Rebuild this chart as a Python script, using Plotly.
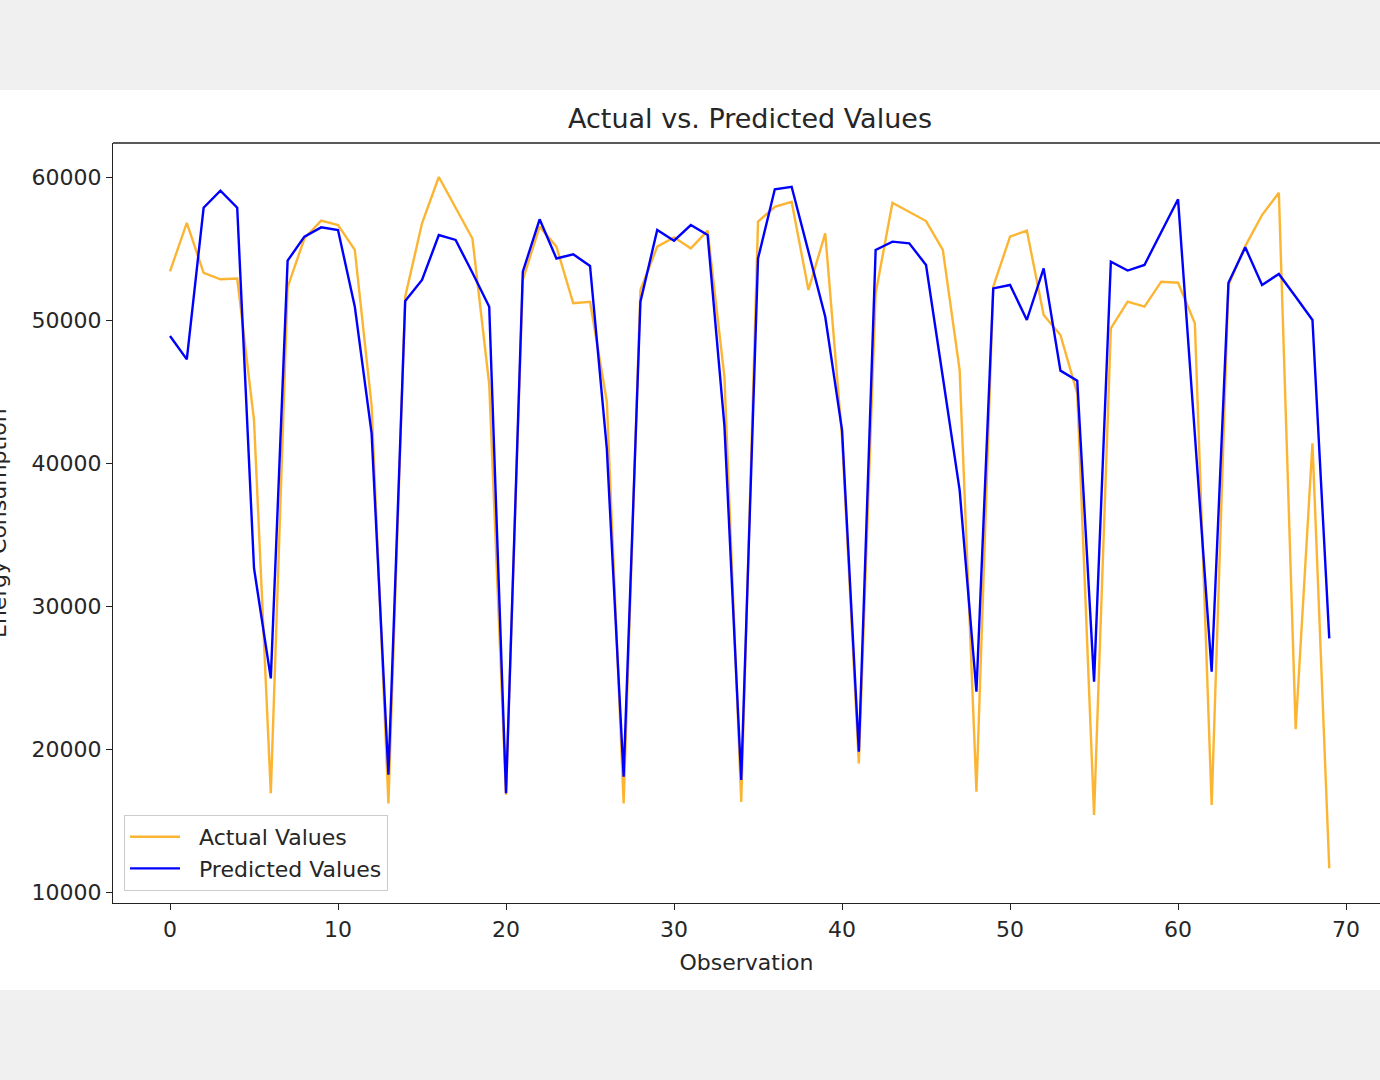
import plotly.graph_objects as go

observations = list(range(70))
actual_values = [53400, 56800, 53300, 52850, 52900, 43000, 16900, 52300, 55700, 56950,
                 56640, 54900, 44000, 16200, 51630, 56760, 60000, 57900, 55700, 45500,
                 16800, 52800, 56530, 55130, 51170, 51280, 44300, 16200, 52100, 55130,
                 55780, 55010, 56250, 46000, 16300, 56880, 57920, 58270, 52100, 56060,
                 41800, 18990, 51860, 58200, 57570, 56920, 54900, 46500, 17020, 52330,
                 55830, 56250, 50350, 48950, 44870, 15380, 49420, 51280, 50930, 52680,
                 52610, 49770, 16080, 52450, 55170, 57340, 58900, 21380, 41380, 11660]
predicted_values = [48880, 47250, 57850, 59040, 57850, 32640, 24940, 54150, 55830, 56480,
                    56290, 50930, 42070, 18200, 51330, 52800, 55940, 55600, 53300, 50930,
                    16900, 53380, 57040, 54300, 54600, 53780, 41000, 18060, 51280, 56300,
                    55550, 56640, 55940, 42600, 17830, 54300, 59140, 59320, 54780, 50230,
                    42300, 19810, 54900, 55480, 55360, 53850, 46000, 38100, 24010, 52210,
                    52450, 50000, 53610, 46460, 45760, 24710, 54080, 53460, 53850, 56180,
                    58440, 42000, 25410, 52610, 55080, 52450, 53220, 51630, 50000, 27740]
x_ticks = [0, 10, 20, 30, 40, 50, 60, 70]
y_ticks = [10000, 20000, 30000, 40000, 50000, 60000]

FONT = "DejaVu Sans"
W, H = 1380, 1080
L, T, B = 113, 143, 177
plot_w = W - L
plot_h = H - T - B
PAD = "\u00a0\u00a0"

fig = go.Figure()
fig.add_trace(go.Scatter(x=observations, y=actual_values, mode="lines",
                         name=PAD + "Actual Values",
                         line=dict(color="rgba(250,162,0,0.8)", width=2.4)))
fig.add_trace(go.Scatter(x=observations, y=predicted_values, mode="lines",
                         name=PAD + "Predicted Values",
                         line=dict(color="#0000FF", width=2.4)))

# white figure region on gray page
fig.add_shape(type="rect", xref="paper", yref="paper",
              x0=-L / plot_w, x1=1.0,
              y0=(-(990 - (H - B))) / plot_h, y1=((H - B) - 90) / plot_h,
              fillcolor="white", line=dict(width=0), layer="below")
# top spine
fig.add_shape(type="line", xref="paper", yref="paper", x0=0, x1=1, y0=1, y1=1,
              line=dict(color="#222222", width=1.3))

fig.add_annotation(text="Energy Consumption", xref="paper", yref="paper",
                   x=(-2 - L) / plot_w, y=0.5, xanchor="center", yanchor="middle",
                   textangle=-90, showarrow=False,
                   font=dict(family=FONT, size=22, color="#262626"))

fig.update_layout(
    width=W, height=H,
    margin=dict(l=L, r=0, t=T, b=B),
    paper_bgcolor="#f0f0f0",
    plot_bgcolor="white",
    font=dict(family=FONT, size=22, color="#262626"),
    title=dict(text="Actual vs. Predicted Values", x=750 / W, xanchor="center",
               y=1 - 119 / H, yanchor="middle",
               font=dict(family=FONT, size=27, color="#262626")),
    showlegend=True,
    legend=dict(x=(124 - L) / plot_w, y=(H - B - 891) / plot_h,
                xanchor="left", yanchor="bottom",
                bgcolor="rgba(255,255,255,0.9)", bordercolor="#cccccc", borderwidth=1,
                font=dict(family=FONT, size=22, color="#262626"),
                tracegroupgap=0, itemwidth=50),
)
fig.update_xaxes(range=[-3.393, 72.02], tickvals=x_ticks, ticktext=[str(v) for v in x_ticks],
                 showgrid=False, zeroline=False, showline=True, linecolor="#222222", linewidth=1.3,
                 ticks="outside", ticklen=6, tickwidth=1.3, tickcolor="#222222",
                 tickfont=dict(family=FONT, size=22, color="#262626"),
                 title=dict(text="Observation", standoff=14,
                            font=dict(family=FONT, size=22, color="#262626")))
fig.update_yaxes(range=[9231, 62378], tickvals=y_ticks, ticktext=[str(v) for v in y_ticks],
                 showgrid=False, zeroline=False, showline=True, linecolor="#222222", linewidth=1.3,
                 ticks="outside", ticklen=6, tickwidth=1.3, tickcolor="#222222",
                 tickfont=dict(family=FONT, size=22, color="#262626"))

fig.write_html("out.html", config={"displayModeBar": False},
               post_script="document.body.style.margin='0';document.body.style.padding='0';"
                           "document.body.style.overflow='hidden';")
